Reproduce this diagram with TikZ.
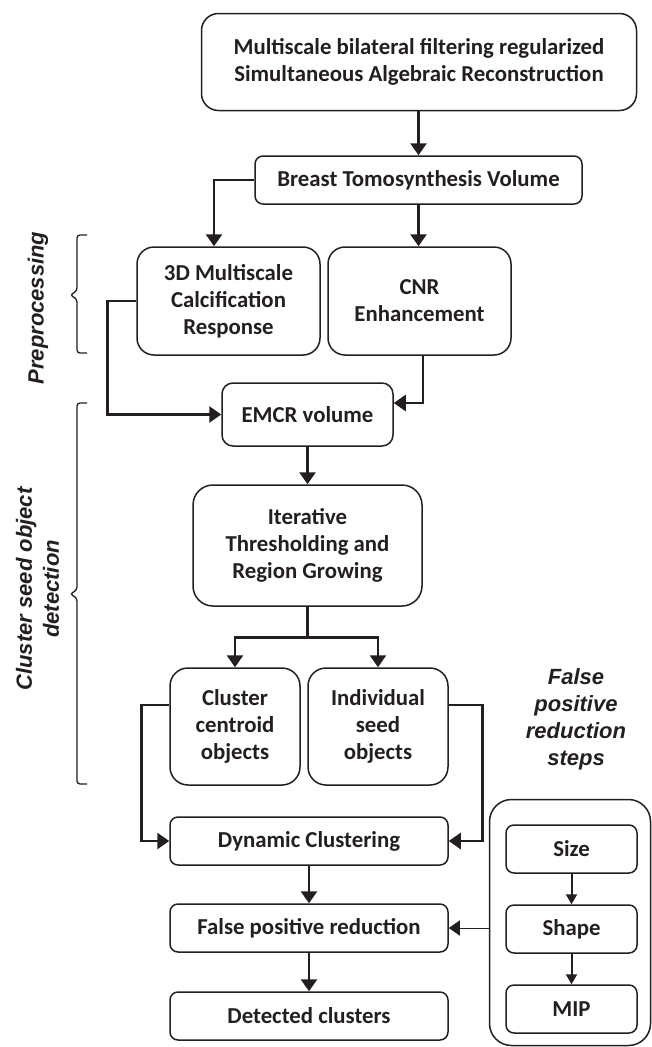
\documentclass[tikz,border=0pt]{standalone}
\usepackage{fontspec}
\setmainfont{Carlito}
\newfontfamily\sidefont{Liberation Sans}
\usetikzlibrary{arrows.meta,calc}
\definecolor{ink}{HTML}{231F20}
\begin{document}
\begin{tikzpicture}[x=1pt,y=-1pt,
  box/.style={draw=ink, line width=1.5pt, align=center, inner sep=0pt,
    font=\fontsize{22.8}{27}\selectfont\bfseries, text=ink},
  conn/.style={line width=2.7pt, draw=ink, -{Triangle[length=12pt,width=16pt]}},
  plain/.style={line width=2.7pt, draw=ink},
  small/.style={line width=2pt, draw=ink, -{Triangle[length=10pt,width=11pt]}},
  thinarr/.style={line width=1pt, draw=ink, -{Triangle[length=11pt,width=15pt]}},
  brace/.style={line width=1.3pt, draw=ink, rounded corners=3pt},
  side/.style={font=\sidefont\fontsize{22}{27}\selectfont\bfseries\itshape, align=center, text=ink, inner sep=0pt}
]
\useasboundingbox (0,0) rectangle (652,1047);

% main boxes
\node[box, rounded corners=17pt, minimum width=435pt, minimum height=97pt] (top) at (419,62)
  {Multiscale bilateral filtering regularized\\Simultaneous Algebraic Reconstruction};
\node[box, rounded corners=8pt, minimum width=327pt, minimum height=48pt] (btv) at (418.5,180)
  {Breast Tomosynthesis Volume};
\node[box, rounded corners=17pt, minimum width=183pt, minimum height=108pt] (mcr) at (228.5,301)
  {3D Multiscale\\Calcification\\Response};
\node[box, rounded corners=17pt, minimum width=183pt, minimum height=108pt] (cnr) at (419.5,301)
  {CNR\\Enhancement};
\node[box, rounded corners=11pt, minimum width=171pt, minimum height=63pt] (emcr) at (307.5,414.5)
  {EMCR volume};
\node[box, rounded corners=20pt, minimum width=229pt, minimum height=121pt] (iter) at (307.5,545.5)
  {Iterative\\Thresholding and\\Region Growing};
\node[box, rounded corners=18pt, minimum width=130pt, minimum height=117pt] (clc) at (235,726.5)
  {Cluster\\centroid\\objects};
\node[box, rounded corners=18pt, minimum width=140pt, minimum height=117pt] (ind) at (378,726.5)
  {Individual\\seed\\objects};
\node[box, rounded corners=8pt, minimum width=278pt, minimum height=48pt] (dc) at (309,841)
  {Dynamic Clustering};
\node[box, rounded corners=8pt, minimum width=278pt, minimum height=48pt] (fpr) at (309,928)
  {False positive reduction};
\node[box, rounded corners=8pt, minimum width=278pt, minimum height=48pt] (det) at (309,1016)
  {Detected clusters};

% false positive reduction steps
\node[box, rounded corners=22pt, minimum width=161pt, minimum height=246pt] (outer) at (570,922.5) {};
\node[box, rounded corners=8pt, minimum width=131pt, minimum height=48pt] (size) at (571.5,849) {Size};
\node[box, rounded corners=8pt, minimum width=131pt, minimum height=48pt] (shape) at (571.5,929) {Shape};
\node[box, rounded corners=8pt, minimum width=131pt, minimum height=48pt] (mip) at (571.5,1009) {MIP};

% side labels
\node[side, rotate=90] (lpre) at (38,308) {Preprocessing};
\node[side, rotate=90] (lcsd) at (37.5,589) {Cluster seed object\\detection};
\node[side] (lfp) at (576,719) {False\\positive\\reduction\\steps};

% braces
\draw[brace] (87,235) -- (77,235) -- (77,291) -- (70,295) -- (77,299) -- (77,353) -- (87,353);
\draw[brace] (87,403) -- (77,403) -- (77,590) -- (70,594) -- (77,598) -- (77,784) -- (87,784);

% connectors
\draw[conn] (top.south -| btv.north) -- (btv.north);
\draw[conn] (btv.west) -| ([xshift=-14.5pt]mcr.north);
\draw[conn] (btv.south) -- (btv.south |- cnr.north);
\draw[conn] (mcr.west) -- ++(-29,0) |- (emcr.west);
\draw[conn] ([xshift=3.5pt]cnr.south) |- ([yshift=11.5pt]emcr.east);
\draw[conn] (emcr.south) -- (iter.north);
\draw[plain] (iter.south) -- ++(0,31) coordinate (sp);
\draw[conn] (sp) -| (clc.north);
\draw[conn] (sp) -| (ind.north);
\draw[conn] ([yshift=21.5pt]clc.west) -- ++(-28,0) |- (dc.west);
\draw[conn] ([yshift=21.5pt]ind.east) -- ++(34,0) |- (dc.east);
\draw[conn] (dc.south) -- (fpr.north);
\draw[conn] (fpr.south) -- (det.north);
\draw[thinarr] (outer.west |- fpr.east) -- (fpr.east);
\draw[small] (size.south) -- (shape.north);
\draw[small] (shape.south) -- (mip.north);
\end{tikzpicture}
\end{document}
